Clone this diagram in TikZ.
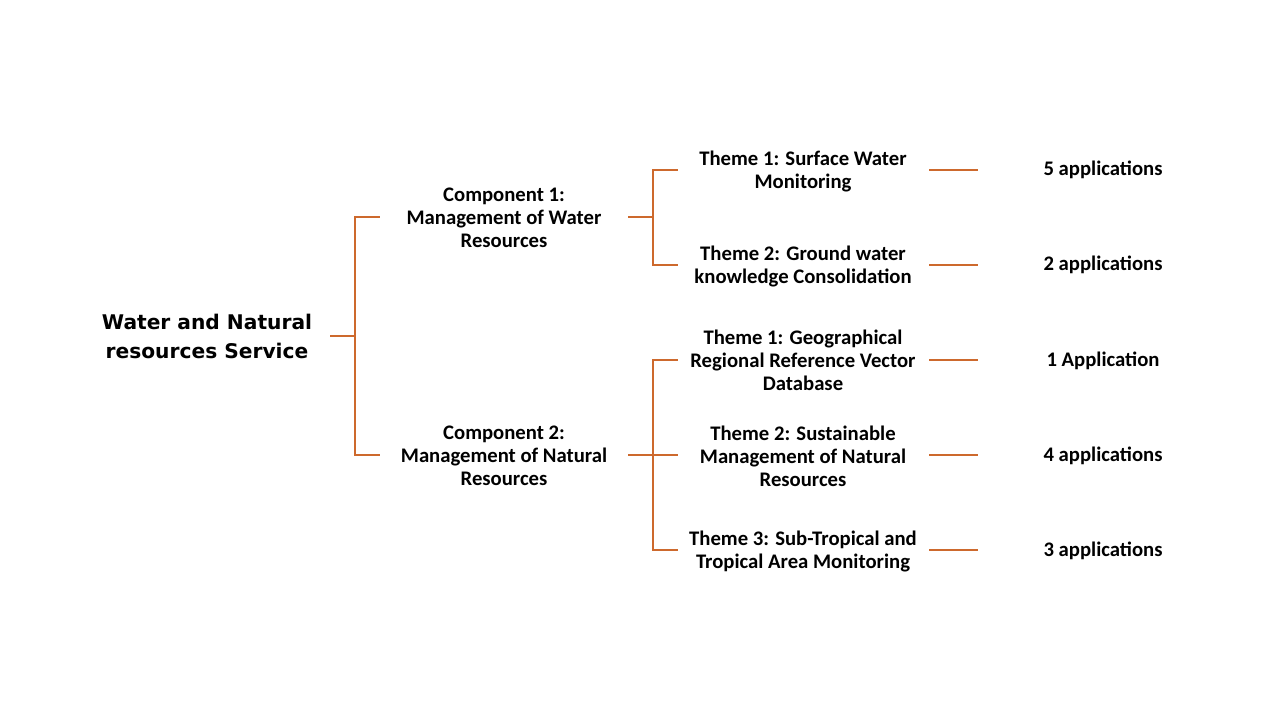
\documentclass[tikz,border=0pt]{standalone}
\usepackage{fontspec}
\setmainfont{Carlito}
\newfontfamily\titlefont{DejaVu Sans}
\definecolor{linkc}{RGB}{205,105,45}
\begin{document}
\begin{tikzpicture}[x=1pt,y=-1pt,
  lbl/.style={align=center,inner sep=0pt,text=black,font=\bfseries\fontsize{20.7}{23}\selectfont},
  ttl/.style={align=center,inner sep=0pt,text=black,font=\titlefont\bfseries\fontsize{20.2}{29}\selectfont},
  link/.style={draw=linkc,line width=1.1pt}]
\useasboundingbox[fill=white] (0,0) rectangle (1280,720);
% text nodes
\node[ttl] (root) at (207,336) {Water and Natural\\resources Service};
\node[lbl] (c1) at (504,218) {Component 1:\\Management of Water\\Resources};
\node[lbl] (c2) at (504,456) {Component 2:\\Management of Natural\\Resources};
\node[lbl] (t11) at (803,171) {Theme 1: Surface Water\\Monitoring};
\node[lbl] (t12) at (803,266) {Theme 2: Ground water\\knowledge Consolidation};
\node[lbl] (t21) at (803,360) {Theme 1: Geographical\\Regional Reference Vector\\Database};
\node[lbl] (t22) at (803,456) {Theme 2: Sustainable\\Management of Natural\\Resources};
\node[lbl] (t23) at (803,551) {Theme 3: Sub-Tropical and\\Tropical Area Monitoring};
\node[lbl] (a11) at (1103,170) {5 applications};
\node[lbl] (a12) at (1103,265) {2 applications};
\node[lbl] (a21) at (1103,361) {1 Application};
\node[lbl] (a22) at (1103,456) {4 applications};
\node[lbl] (a23) at (1103,551) {3 applications};
% connector ends
\coordinate (r0) at (330,336);
\coordinate (rj) at (355,336);
\coordinate (rc1) at (380,217);
\coordinate (rc2) at (380,455);
\coordinate (c1o) at (628,217);
\coordinate (c1j) at (653,217);
\coordinate (c1a) at (678,170);
\coordinate (c1b) at (678,265);
\coordinate (c2o) at (628,455);
\coordinate (c2j) at (653,455);
\coordinate (c2a) at (678,360);
\coordinate (c2b) at (678,455);
\coordinate (c2c) at (678,550);
\coordinate (e11) at (929,170);
\coordinate (f11) at (978,170);
\coordinate (e12) at (929,265);
\coordinate (f12) at (978,265);
\coordinate (e21) at (929,360);
\coordinate (f21) at (978,360);
\coordinate (e22) at (929,455);
\coordinate (f22) at (978,455);
\coordinate (e23) at (929,550);
\coordinate (f23) at (978,550);
% connectors
\draw[link] (r0) -- (rj);
\draw[link] (rj) |- (rc1);
\draw[link] (rj) |- (rc2);
\draw[link] (c1o) -- (c1j);
\draw[link] (c1j) |- (c1a);
\draw[link] (c1j) |- (c1b);
\draw[link] (c2o) -- (c2j);
\draw[link] (c2j) |- (c2a);
\draw[link] (c2j) -- (c2b);
\draw[link] (c2j) |- (c2c);
\draw[link] (e11) -- (f11);
\draw[link] (e12) -- (f12);
\draw[link] (e21) -- (f21);
\draw[link] (e22) -- (f22);
\draw[link] (e23) -- (f23);
\end{tikzpicture}
\end{document}
